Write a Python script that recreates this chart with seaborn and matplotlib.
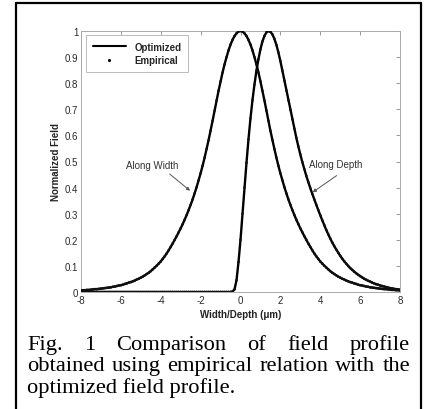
import numpy as np
import pandas as pd
import matplotlib
matplotlib.use("Agg")
import matplotlib.pyplot as plt
from matplotlib.lines import Line2D
import seaborn as sns

# ---------------- data ----------------
position_um = np.round(np.arange(-80, 81) / 10.0, 1)   # -8.0 ... 8.0 step 0.1

field_along_width = [
    0.006, 0.007, 0.007, 0.008, 0.008, 0.009, 0.010, 0.011, 0.011, 0.012,
    0.013, 0.014, 0.015, 0.016, 0.017, 0.018, 0.020, 0.021, 0.023, 0.025,
    0.026, 0.028, 0.031, 0.033, 0.036, 0.038, 0.041, 0.044, 0.048, 0.051,
    0.055, 0.059, 0.064, 0.069, 0.074, 0.080, 0.087, 0.094, 0.101, 0.109,
    0.117, 0.127, 0.137, 0.148, 0.160, 0.173, 0.186, 0.200, 0.214, 0.229,
    0.244, 0.260, 0.277, 0.295, 0.314, 0.334, 0.355, 0.378, 0.402, 0.428,
    0.455, 0.484, 0.515, 0.548, 0.582, 0.618, 0.656, 0.695, 0.734, 0.771,
    0.807, 0.841, 0.872, 0.900, 0.926, 0.948, 0.966, 0.981, 0.991, 0.998,
    1.000,
    0.998, 0.991, 0.981, 0.966, 0.948, 0.926, 0.900, 0.872, 0.841, 0.807,
    0.771, 0.734, 0.695, 0.656, 0.618, 0.582, 0.548, 0.515, 0.484, 0.455,
    0.428, 0.402, 0.378, 0.355, 0.334, 0.314, 0.295, 0.277, 0.260, 0.244,
    0.229, 0.214, 0.200, 0.186, 0.173, 0.160, 0.148, 0.137, 0.127, 0.117,
    0.109, 0.101, 0.094, 0.087, 0.080, 0.074, 0.069, 0.064, 0.059, 0.055,
    0.051, 0.048, 0.044, 0.041, 0.038, 0.036, 0.033, 0.031, 0.028, 0.026,
    0.025, 0.023, 0.021, 0.020, 0.018, 0.017, 0.016, 0.015, 0.014, 0.013,
    0.012, 0.011, 0.011, 0.010, 0.009, 0.008, 0.008, 0.007, 0.007, 0.006,
]

field_along_depth = [0.0] * 76 + [
    0.002, 0.010, 0.045, 0.115, 0.200,
    0.300, 0.400, 0.495, 0.585, 0.665, 0.735, 0.795, 0.848, 0.892, 0.930,
    0.960, 0.981, 0.995, 1.000, 0.997, 0.987, 0.970, 0.947, 0.918, 0.885,
    0.848, 0.810, 0.772, 0.735, 0.698, 0.662, 0.626, 0.591, 0.558, 0.527,
    0.498, 0.471, 0.445, 0.421, 0.398, 0.376, 0.355, 0.334, 0.314, 0.294,
    0.275, 0.256, 0.238, 0.221, 0.205, 0.190, 0.176, 0.163, 0.151, 0.139,
    0.128, 0.118, 0.109, 0.100, 0.092, 0.085, 0.078, 0.072, 0.066, 0.061,
    0.056, 0.051, 0.047, 0.043, 0.040, 0.036, 0.033, 0.030, 0.028, 0.025,
    0.023, 0.021, 0.019, 0.017, 0.015, 0.014, 0.012, 0.011, 0.010, 0.009,
]

x_ticks = [-8, -6, -4, -2, 0, 2, 4, 6, 8]
y_ticks = [0, 0.1, 0.2, 0.3, 0.4, 0.5, 0.6, 0.7, 0.8, 0.9, 1]
y_tick_labels = ["0", "0.1", "0.2", "0.3", "0.4", "0.5", "0.6", "0.7", "0.8", "0.9", "1"]
legend_labels = ["Optimized", "Empirical"]
caption_lines = [
    "Fig. 1 Comparison of field profile",
    "obtained using empirical relation with the",
    "optimized field profile.",
]

# ---------------- figure ----------------
sns.set_style("white")
plt.rcParams["font.family"] = ["Liberation Sans", "DejaVu Sans"]

W, H = 424, 410
fig = plt.figure(figsize=(W / 100, H / 100), dpi=100)

def fx(px):
    return px / W

def fy(py):
    return 1 - py / H

ax = fig.add_axes([fx(81), fy(293), fx(400) - fx(81), fy(32) - fy(293)])

df = pd.concat([
    pd.DataFrame({"x": position_um, "field": field_along_width, "profile": "width"}),
    pd.DataFrame({"x": position_um, "field": field_along_depth, "profile": "depth"}),
])

sns.lineplot(data=df, x="x", y="field", hue="profile", palette=["black", "black"],
             linewidth=1.7, legend=False, ax=ax, zorder=3, sort=False)
sns.scatterplot(data=df, x="x", y="field", hue="profile", palette=["#111111", "#111111"],
                s=3.5, linewidth=0, legend=False, ax=ax, zorder=4)

ax.set_xlim(-8, 8)
ax.set_ylim(0, 1)
ax.set_xticks(x_ticks)
ax.set_xticklabels([str(t) for t in x_ticks])
ax.set_yticks(y_ticks)
ax.set_yticklabels(y_tick_labels)
ax.tick_params(direction="in", length=3, width=0.6, color="#888888",
               labelsize=7, labelcolor="#2a2a2a", top=True, right=True, pad=2)
for s in ax.spines.values():
    s.set_color("#aaaaaa")
    s.set_linewidth(0.7)

ax.set_xlabel("Width/Depth (\u03bcm)", fontsize=7, fontweight="bold", color="#222222", labelpad=3)
ax.set_ylabel("Normalized Field", fontsize=7, fontweight="bold", color="#222222", labelpad=3)

# legend
handles = [Line2D([0], [0], color="black", lw=1.5),
           Line2D([0], [0], color="black", lw=0, marker=".", markersize=2.5)]
leg = ax.legend(handles, legend_labels, loc="upper left", bbox_to_anchor=(0.015, 0.985),
                prop={"size": 7, "weight": "bold"}, frameon=True, fancybox=False,
                edgecolor="#aaaaaa", handlelength=3.4, borderpad=0.7, labelspacing=0.35,
                handletextpad=0.9, borderaxespad=0)
leg.get_frame().set_linewidth(0.7)

# annotations
arrow = dict(arrowstyle="-|>", color="#555555", lw=0.7, mutation_scale=5, shrinkA=0, shrinkB=0)
ax.text(-4.45, 0.487, "Along Width", fontsize=7, ha="center", va="center", color="#333333")
ax.annotate("", xy=(-2.53, 0.388), xytext=(-3.55, 0.452), arrowprops=arrow)
ax.text(4.78, 0.49, "Along Depth", fontsize=7, ha="center", va="center", color="#333333")
ax.annotate("", xy=(3.62, 0.382), xytext=(4.82, 0.446), arrowprops=arrow)

# outer frame (left, top, right)
frame_kw = dict(color="black", lw=1.6, transform=fig.transFigure)
fig.add_artist(Line2D([fx(15.5), fx(15.5)], [0, fy(3.5)], **frame_kw))
fig.add_artist(Line2D([fx(15.5), fx(421)], [fy(3.5), fy(3.5)], **frame_kw))
fig.add_artist(Line2D([fx(421), fx(421)], [0, fy(3.5)], **frame_kw))

# caption (justified)
cap_font = dict(family=["Liberation Serif", "DejaVu Serif"], size=16.2, color="black")
left_px, right_px = 27, 410
baselines = [350, 371.5, 393]
fig.canvas.draw()
renderer = fig.canvas.get_renderer()
for i, line in enumerate(caption_lines):
    words = line.split(" ")
    if i == len(caption_lines) - 1:
        fig.text(fx(left_px), fy(baselines[i]), line, ha="left", va="baseline", **cap_font)
        continue
    arts = [fig.text(0, fy(baselines[i]), w, ha="left", va="baseline", **cap_font) for w in words]
    widths = [a.get_window_extent(renderer).width for a in arts]
    gap = (right_px - left_px - sum(widths)) / (len(words) - 1)
    xpos = left_px
    for a, w in zip(arts, widths):
        a.set_x(fx(xpos))
        xpos += w + gap

fig.savefig("out.png", dpi=100)
